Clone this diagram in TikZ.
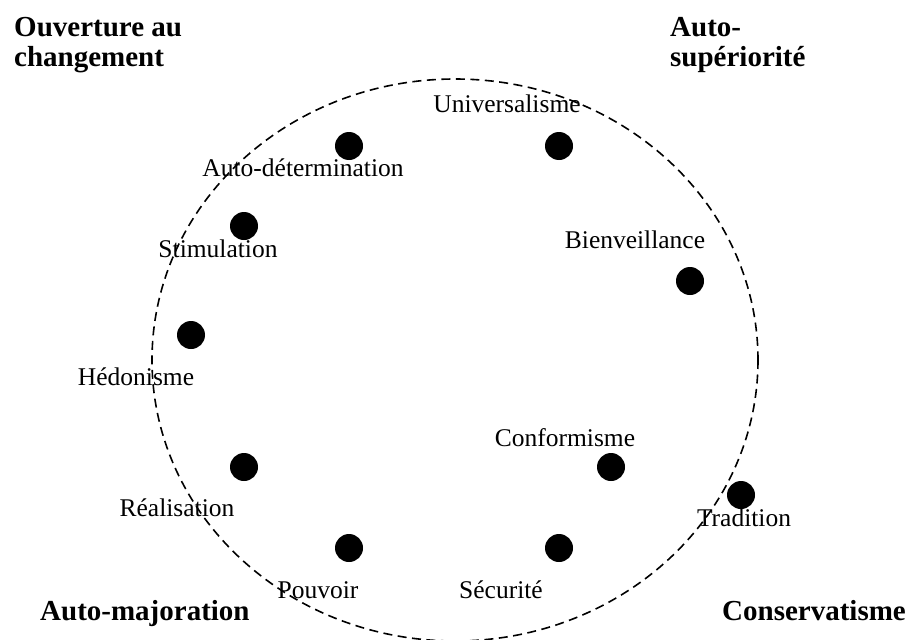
\documentclass[tikz,border=0pt]{standalone}
\usepackage{fontspec}
\setmainfont{Liberation Serif}
\tikzset{
  valeur/.style={circle,fill=black,inner sep=0pt,minimum size=28pt},
  etiquette/.style={inner sep=0pt,font=\fontsize{25.5}{30}\selectfont},
  pole/.style={inner sep=0pt,anchor=north west,align=left,font=\fontsize{29}{30}\selectfont\bfseries}
}
\begin{document}
\begin{tikzpicture}[x=1pt,y=-1pt]
        \useasboundingbox (0,0) rectangle (914,640);
        \draw[line width=1.6pt,dash pattern=on 9pt off 5.5pt] (455,360) ellipse (303 and 281);
        % valeurs
        \node[valeur] (univ) at (559,146) {};
        \node[valeur] (autodet) at (349,146) {};
        \node[valeur] (stim) at (244,226) {};
        \node[valeur] (bienv) at (690,281) {};
        \node[valeur] (hedo) at (191,335) {};
        \node[valeur] (conf) at (611,467) {};
        \node[valeur] (trad) at (741,495) {};
        \node[valeur] (real) at (244,467) {};
        \node[valeur] (pouv) at (349,548) {};
        \node[valeur] (secu) at (559,548) {};
        \node[etiquette] (univlab) at (507,104) {Universalisme};
        \node[etiquette] (autodetlab) at (303,168) {Auto-détermination};
        \node[etiquette] (stimlab) at (218,249) {Stimulation};
        \node[etiquette] (bienvlab) at (635,240) {Bienveillance};
        \node[etiquette] (hedolab) at (136,377) {Hédonisme};
        \node[etiquette] (conflab) at (565,438) {Conformisme};
        \node[etiquette] (tradlab) at (744,518) {Tradition};
        \node[etiquette] (reallab) at (177,508) {Réalisation};
        \node[etiquette] (pouvlab) at (318,590) {Pouvoir};
        \node[etiquette] (seculab) at (501,590) {Sécurité};
        % poles
        \node[pole] (ouv) at (14,17) {Ouverture au\\changement};
        \node[pole] (sup) at (670,17) {Auto-\\supériorité};
        \node[pole] (maj) at (40,600) {Auto-majoration};
        \node[pole] (cons) at (722,600) {Conservatisme};
      \end{tikzpicture}
\end{document}
